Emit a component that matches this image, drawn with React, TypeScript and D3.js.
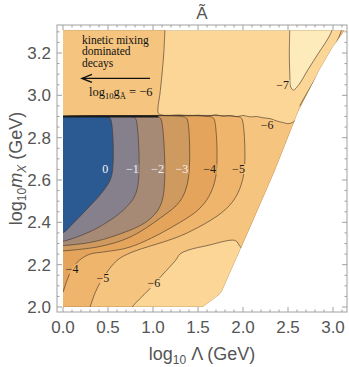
import React from 'react';
import * as d3 from 'd3';

type Pt = [number, number];

// frame ticks
const xTicks = [0, 0.5, 1, 1.5, 2, 2.5, 3];
const yTicks = [2.0, 2.2, 2.4, 2.6, 2.8, 3.0, 3.2];

// edge of the scanned (non white) region, [log10 Lambda, log10 mX]
const validRegion: Pt[] = [
  [0, 2.0], [1.556, 2.0], [1.733, 2.057], [1.767, 2.075], [2.067, 2.364],
  [2.35, 2.64], [2.62, 2.93], [2.85, 3.12], [3.0, 3.23], [3.13, 3.308], [0, 3.308],
];

// contour lines
const c7: Pt[] = [
  [2.52, 3.32], [2.515, 3.2], [2.52, 3.1], [2.53, 3.04], [2.56, 3.025],
  [2.62, 3.05], [2.72, 3.12], [2.84, 3.2], [2.96, 3.28], [3.0, 3.32],
];
const c6edge: Pt[] = [
  [2.63, 2.95], [2.75, 3.04], [2.88, 3.13], [2.98, 3.2], [3.08, 3.29], [3.1, 3.32],
];
const c6top: Pt[] = [
  [1.133, 3.32], [1.12, 3.2], [1.1, 3.1], [1.075, 3.0], [1.055, 2.94], [1.06, 2.915],
  [1.12, 2.905], [1.3, 2.907], [1.4, 2.903], [1.5, 2.906], [1.6, 2.902], [1.7, 2.908],
  [1.78, 2.901], [1.85, 2.905], [1.93, 2.899], [2.0, 2.905], [2.08, 2.898], [2.15, 2.9],
  [2.22, 2.894], [2.3, 2.89], [2.38, 2.878], [2.45, 2.871], [2.5, 2.866],
  [2.55, 2.872], [2.6, 2.89], [2.65, 2.93],
];
const c6low: Pt[] = [
  [2.05, 2.25], [1.96, 2.29], [1.93, 2.31], [1.88, 2.316], [1.6, 2.29], [1.4, 2.27],
  [1.3, 2.25], [1.25, 2.22], [1.1, 2.15], [0.95, 2.08], [0.77, 2.0], [0.75, 1.98],
];
const c5: Pt[] = [
  [0, 2.9], [1.93, 2.9], [1.98, 2.893], [2.0, 2.87], [2.0, 2.61], [1.85, 2.48], [1.38, 2.35],
  [0.744, 2.255], [0.6, 2.22], [0.444, 2.137], [0.36, 2.07], [0.3, 2.0], [0.28, 1.98],
];
const c4: Pt[] = [
  [0, 2.9], [1.62, 2.9], [1.67, 2.893], [1.69, 2.87], [1.69, 2.6], [1.55, 2.48], [1.22, 2.38],
  [0.744, 2.283], [0.45, 2.26], [0.3, 2.25], [0.18, 2.22], [0.1, 2.18], [0.04, 2.12], [0, 2.07],
];
const c3: Pt[] = [
  [0, 2.9], [1.32, 2.9], [1.37, 2.893], [1.39, 2.87], [1.39, 2.6], [1.3, 2.5], [1.08, 2.42],
  [0.744, 2.33], [0.4, 2.285], [0, 2.265],
];
const c2: Pt[] = [
  [0, 2.9], [1.03, 2.9], [1.08, 2.893], [1.1, 2.87], [1.1, 2.5], [0.95, 2.41], [0.6, 2.34],
  [0.3, 2.305], [0, 2.29],
];
const c1: Pt[] = [
  [0, 2.9], [0.75, 2.9], [0.8, 2.893], [0.82, 2.87], [0.82, 2.55], [0.7, 2.47], [0.41, 2.38],
  [0.15, 2.33], [0, 2.31],
];
const c0: Pt[] = [
  [0, 2.9], [0.47, 2.9], [0.52, 2.893], [0.54, 2.87], [0.54, 2.62], [0.45, 2.55], [0.26, 2.46],
  [0.1, 2.39], [0, 2.35],
];
const kineticEdge: Pt[] = [[0, 2.9], [1.06, 2.9]];

const dLevels = [-5, -4, -3, -2, -1, 0];
const dContours = [c5, c4, c3, c2, c1, c0];
const bandColor: Record<string, string> = {
  '-8': '#fdebbb', '-7': '#fbd697', '-6': '#f5c47f', '-5': '#efb56d', '-4': '#e5a45b',
  '-3': '#cf9a60', '-2': '#a78a76', '-1': '#86808c', '0': '#2b5a93',
};

const labelText = ['0', '−1', '−2', '−3', '−4', '−5', '−6', '−7', '−4', '−5', '−6'];
const labelAt: Pt[] = [
  [0.47, 2.652], [0.77, 2.652], [1.05, 2.652], [1.32, 2.652], [1.63, 2.652], [1.95, 2.652],
  [2.267, 2.86], [2.44, 3.049], [0.1, 2.18], [0.444, 2.137], [1.011, 2.113],
];

const W = 349, H = 367;
const x = d3.scaleLinear().domain([0, 3]).range([63, 333]);
const y = d3.scaleLinear().domain([2, 3.2]).range([307, 53]);
const frame = { l: 57, r: 347, t: 25, b: 312 };

const curve = d3.line<Pt>().x(d => x(d[0])).y(d => y(d[1])).curve(d3.curveCatmullRom.alpha(0.5));
const straight = d3.line<Pt>().x(d => x(d[0])).y(d => y(d[1]));
const sans = 'Liberation Sans, Arial, sans-serif';
const serif = 'Liberation Serif, Times New Roman, serif';
const grey = '#555';
const lineCol = 'rgba(70,55,40,0.7)';

export default function App() {
  const minorX = d3.range(0, 3.15, 0.1).map(v => +v.toFixed(2));
  const minorY = d3.range(2, 3.31, 0.05).map(v => +v.toFixed(2));
  const isMajor = (v: number, arr: number[]) => arr.some(a => Math.abs(a - v) < 1e-6);

  const fill6: Pt[] = [[-0.3, 3.5], [1.14, 3.5], ...c6top, [2.8, 2.95], [2.8, 2.2], ...c6low, [0.7, 1.9], [-0.3, 1.9]];
  const fill7: Pt[] = [[2.52, 3.5], ...c7, [3.1, 3.5]];
  const fillEdge: Pt[] = [[2.6, 2.9], ...c6edge, [3.4, 3.5], [3.4, 2.9]];

  return (
    <svg width={W} height={H} style={{ position: 'absolute', left: 0, top: 0, background: '#fff' }}>
      <defs>
        <clipPath id="valid">
          <path d={straight(validRegion) + 'Z'} />
        </clipPath>
        <mask id="lbl">
          <rect x={0} y={0} width={W} height={H} fill="#fff" />
          {labelText.map((t, i) => {
            const w = t.length * 6.5 + 1;
            return <rect key={i} x={x(labelAt[i][0]) - w / 2} y={y(labelAt[i][1]) - 5} width={w} height={10} fill="#000" />;
          })}
        </mask>
      </defs>
      <g clipPath="url(#valid)">
        <path d={straight(validRegion) + 'Z'} fill={bandColor['-7']} />
        <path d={curve(fill7) + 'Z'} fill={bandColor['-8']} />
        <path d={curve(fill6) + 'Z'} fill={bandColor['-6']} />
        <path d={curve(fillEdge) + 'Z'} fill={bandColor['-6']} />
        {dContours.map((c, i) => {
          const last = c[c.length - 1];
          const tail: Pt[] = last[1] < 2.0 ? [[last[0], 1.9], [-0.3, 1.9]] : [[-0.3, last[1]]];
          const pts: Pt[] = [[-0.3, 2.9], ...c, ...tail];
          return <path key={i} d={curve(pts) + 'Z'} fill={bandColor[String(dLevels[i])]} />;
        })}
        <g mask="url(#lbl)">
          {[c7, c6edge, c6top, c6low, ...dContours].map((c, i) => (
            <path key={'l' + i} d={curve(c)!} fill="none" stroke={lineCol} strokeWidth={0.9} />
          ))}
        </g>
        <path d={straight(validRegion)!} fill="none" stroke="rgba(120,90,50,0.5)" strokeWidth={0.8} />
        <path d={straight(kineticEdge)!} stroke="#1a1a1a" strokeWidth={2} fill="none" />
      </g>

      {labelText.map((t, i) => (
        <text key={'t' + i} x={x(labelAt[i][0])} y={y(labelAt[i][1]) + 4} fontFamily={serif} fontSize={12}
          textAnchor="middle" fill={i < 4 ? '#f2f2f2' : '#1a1a1a'}>{t}</text>
      ))}

      {/* annotation */}
      <g fontFamily={serif} fontSize={11.5} fill="#111">
        <text x={x(0.211)} y={y(3.244)}>kinetic mixing</text>
        <text x={x(0.211)} y={y(3.19)}>dominated</text>
        <text x={x(0.211)} y={y(3.136)}>decays</text>
        <text x={x(0.29)} y={y(2.997)} fontSize={12.5}>
          log<tspan fontSize={8.5} dy={3}>10</tspan><tspan dy={-3}>g</tspan>
          <tspan fontSize={8.5} dy={3}>Ã</tspan><tspan dy={-3}> = −6</tspan>
        </text>
      </g>
      <path d={straight([[0.967, 3.08], [0.211, 3.08]])!} stroke="#111" strokeWidth={1.4} />
      <path d={`M${x(0.211) + 10},${y(3.08) - 4}L${x(0.211)},${y(3.08)}L${x(0.211) + 10},${y(3.08) + 4}`}
        stroke="#111" strokeWidth={1.4} fill="none" />

      {/* frame */}
      <rect x={frame.l} y={frame.t} width={frame.r - frame.l} height={frame.b - frame.t} fill="none" stroke="#a0a0a0" />
      {minorX.map(v => {
        const len = isMajor(v, xTicks) ? 5 : 2.5;
        return (
          <g key={'xt' + v} stroke="#a0a0a0">
            <line x1={x(v)} x2={x(v)} y1={frame.b} y2={frame.b - len} />
            <line x1={x(v)} x2={x(v)} y1={frame.t} y2={frame.t + len} />
          </g>
        );
      })}
      {minorY.map(v => {
        const len = isMajor(v, yTicks) ? 5 : 2.5;
        return (
          <g key={'yt' + v} stroke="#a0a0a0">
            <line x1={frame.l} x2={frame.l + len} y1={y(v)} y2={y(v)} />
            <line x1={frame.r} x2={frame.r - len} y1={y(v)} y2={y(v)} />
          </g>
        );
      })}
      {xTicks.map(v => (
        <text key={'xl' + v} x={x(v)} y={333} textAnchor="middle" fontFamily={sans} fontSize={17} fill={grey}>
          {v.toFixed(1)}
        </text>
      ))}
      {yTicks.map(v => (
        <text key={'yl' + v} x={51} y={y(v) + 6} textAnchor="end" fontFamily={sans} fontSize={17} fill={grey}>
          {v.toFixed(1)}
        </text>
      ))}
      <text x={(frame.l + frame.r) / 2} y={19} textAnchor="middle" fontFamily={sans} fontSize={17} fill={grey}>Ã</text>
      <text x={(frame.l + frame.r) / 2} y={360} textAnchor="middle" fontFamily={sans} fontSize={18} fill={grey}>
        log<tspan fontSize={12} dy={4}>10</tspan><tspan dy={-4}> Λ (GeV)</tspan>
      </text>
      <text transform={`translate(22,${(frame.t + frame.b) / 2}) rotate(-90)`} textAnchor="middle"
        fontFamily={sans} fontSize={18} fill={grey}>
        log<tspan fontSize={12} dy={4}>10</tspan><tspan dy={-4} fontStyle="italic">m</tspan>
        <tspan fontSize={12} dy={4} fontStyle="italic">X</tspan><tspan dy={-4}> (GeV)</tspan>
      </text>
    </svg>
  );
}
